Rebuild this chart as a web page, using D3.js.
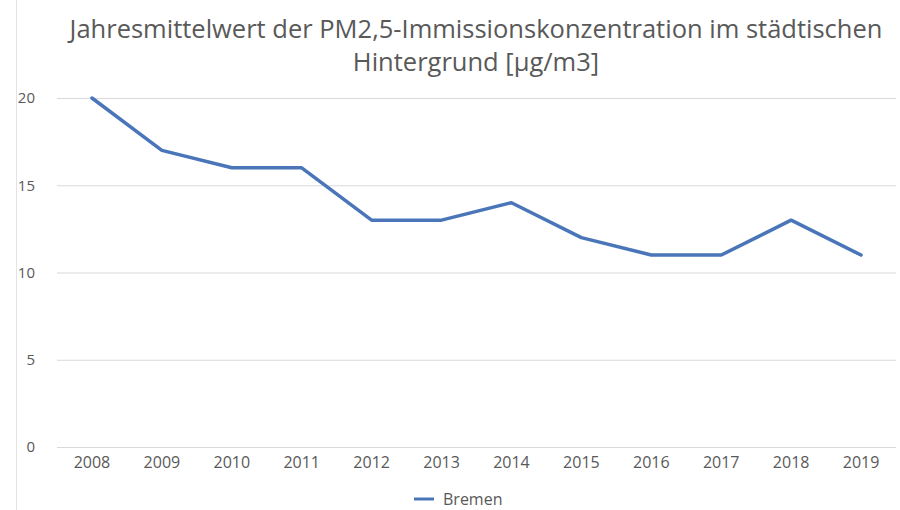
<!DOCTYPE html>
<html>
<head>
<meta charset="utf-8">
<script src="https://cdn.jsdelivr.net/npm/d3@7"></script>
<style>
  body { margin: 0; background: #fff; }
  text { font-family: "Open Sans", "Noto Sans", sans-serif; fill: #595959; }
  .grid line { stroke: #d9d9d9; stroke-width: 1; }
  .grid path { display: none; }
  .axis path, .axis line { display: none; }
</style>
</head>
<body>
<div id="chart"></div>
<script>
var years = ['2008', '2009', '2010', '2011', '2012', '2013', '2014', '2015', '2016', '2017', '2018', '2019'];
var bremen = [20, 17, 16, 16, 13, 13, 14, 12, 11, 11, 13, 11];
var yTicks = [0, 5, 10, 15, 20];
var titleLines = ['Jahresmittelwert der PM2,5-Immissionskonzentration im städtischen', 'Hintergrund [µg/m3]'];
var seriesName = 'Bremen';

var width = 900, height = 510,
  margins = {top: 98, left: 57, right: 4, bottom: 63};

var svg = d3.select('#chart').append('svg')
  .attr('width', width)
  .attr('height', height);

// frame edge on the left
svg.append('line')
  .attr('x1', 16.5).attr('x2', 16.5)
  .attr('y1', 0).attr('y2', height)
  .attr('stroke', '#e3e3e3');

var x = d3.scaleBand()
  .domain(years)
  .range([margins.left, width - margins.right]);

var y = d3.scaleLinear()
  .domain([0, 20])
  .range([height - margins.bottom, margins.top]);

svg.append('g')
  .attr('class', 'grid')
  .attr('transform', 'translate(' + margins.left + ',0)')
  .call(d3.axisLeft(y).tickValues(yTicks)
    .tickSize(-(width - margins.left - margins.right))
    .tickFormat(''));

var yAxis = svg.append('g')
  .attr('class', 'axis')
  .attr('transform', 'translate(35,0)')
  .call(d3.axisLeft(y).tickValues(yTicks).tickSize(0).tickPadding(0));
yAxis.selectAll('text').style('font-size', '15px').attr('fill', '#595959');

var xAxis = svg.append('g')
  .attr('class', 'axis')
  .attr('transform', 'translate(0,' + (height - margins.bottom) + ')')
  .call(d3.axisBottom(x).tickSize(0).tickPadding(10));
xAxis.selectAll('text').style('font-size', '16px').attr('fill', '#595959');

var line = d3.line()
  .x(function (d, i) { return x(years[i]) + x.bandwidth() / 2; })
  .y(function (d) { return y(d); });

svg.append('path')
  .datum(bremen)
  .attr('fill', 'none')
  .attr('stroke', '#4a76b9')
  .attr('stroke-width', 3.5)
  .attr('stroke-linejoin', 'round')
  .attr('stroke-linecap', 'round')
  .attr('d', line);

svg.selectAll('text.title')
  .data(titleLines)
  .enter()
  .append('text')
  .attr('class', 'title')
  .attr('x', 476)
  .attr('y', function (d, i) { return 38 + i * 33; })
  .attr('text-anchor', 'middle')
  .style('font-size', '25.5px')
  .text(function (d) { return d; });

var legend = svg.append('g').attr('transform', 'translate(414,499)');
legend.append('line')
  .attr('x1', 0).attr('x2', 20)
  .attr('stroke', '#4a76b9')
  .attr('stroke-width', 3);
legend.append('text')
  .attr('x', 29)
  .attr('dy', '0.35em')
  .style('font-size', '16px')
  .text(seriesName);
</script>
</body>
</html>
